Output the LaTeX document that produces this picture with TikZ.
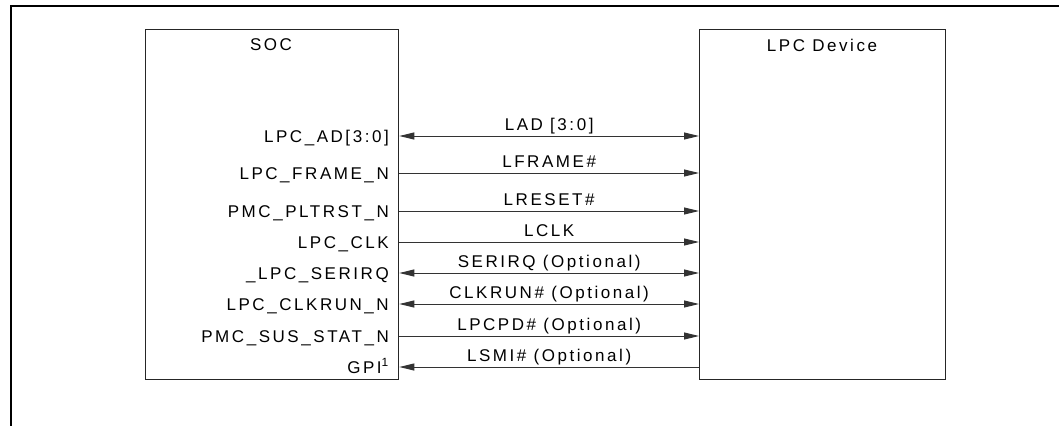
\documentclass[tikz,border=0pt]{standalone}
\usepackage{fontspec}
\setmainfont{Liberation Sans}[LetterSpace=15]
\usetikzlibrary{arrows.meta,positioning}

\tikzset{
  chip/.style={rectangle, draw=black!85, line width=1.3pt, minimum height=350pt, anchor=north west, inner sep=0pt},
  pinlbl/.style={anchor=east, inner sep=0pt, text height=12pt, text depth=0pt},
  siglbl/.style={midway, above=5pt, inner sep=0pt, text height=12pt, text depth=0pt},
  sig/.style={draw=black!80, line width=1pt, >={Triangle[length=15pt,width=7pt]}}
}

\begin{document}
\begin{tikzpicture}[x=1pt, y=-1pt, font=\fontsize{17}{20}\selectfont]
    \useasboundingbox (0,0) rectangle (1059,426);
    % frame
    \draw[line width=2pt] (1059,6) -- (11,6) -- (11,426);

    % the two chips
    \node[chip, minimum width=253pt] (soc) at (145,29) {};
    \node[chip, minimum width=246pt] (dev) at (699,29) {};
    \node (soctitle) at (271,45) {SOC};
    \node (devtitle) at (822,45) {LPC Device};

    % SOC side pins
    \node[pinlbl] (ad) at (389,136) {LPC\_AD[3:0]};
    \node[pinlbl] (frame) at (389,173) {LPC\_FRAME\_N};
    \node[pinlbl] (pltrst) at (389,211) {PMC\_PLTRST\_N};
    \node[pinlbl] (clk) at (389,242) {LPC\_CLK};
    \node[pinlbl] (serirq) at (389,273) {\_LPC\_SERIRQ};
    \node[pinlbl] (clkrun) at (389,304) {LPC\_CLKRUN\_N};
    \node[pinlbl] (susstat) at (389,336) {PMC\_SUS\_STAT\_N};
    \node[pinlbl] (gpi) at (389,367) {GPI\textsuperscript{1}};

    % signals
    \draw[sig, <->] (soc.east |- ad) -- node[siglbl] {LAD [3:0]} (dev.west |- ad);
    \draw[sig, ->] (soc.east |- frame) -- node[siglbl] {LFRAME\#} (dev.west |- frame);
    \draw[sig, ->] (soc.east |- pltrst) -- node[siglbl] {LRESET\#} (dev.west |- pltrst);
    \draw[sig, ->] (soc.east |- clk) -- node[siglbl] {LCLK} (dev.west |- clk);
    \draw[sig, <->] (soc.east |- serirq) -- node[siglbl] {SERIRQ (Optional)} (dev.west |- serirq);
    \draw[sig, <->] (soc.east |- clkrun) -- node[siglbl] {CLKRUN\# (Optional)} (dev.west |- clkrun);
    \draw[sig, ->] (soc.east |- susstat) -- node[siglbl] {LPCPD\# (Optional)} (dev.west |- susstat);
    \draw[sig, <-] (soc.east |- gpi) -- node[siglbl] {LSMI\# (Optional)} (dev.west |- gpi);
\end{tikzpicture}
\end{document}
